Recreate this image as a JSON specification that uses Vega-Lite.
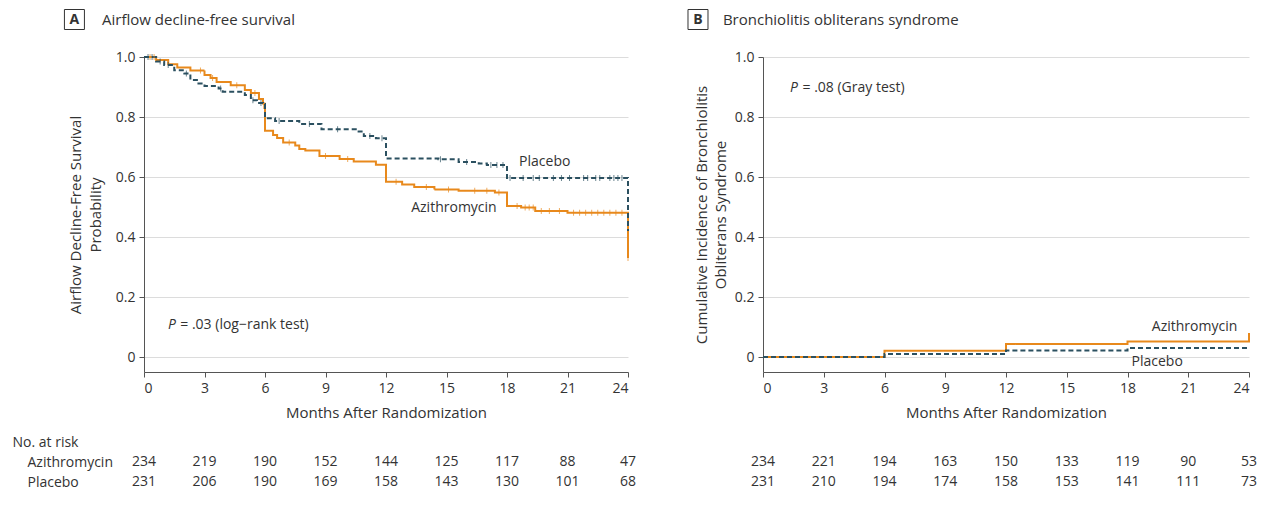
{
  "$schema": "https://vega.github.io/schema/vega-lite/v6.json",
  "padding": {"left": 12, "top": 7, "right": 0, "bottom": 0},
  "config": {
    "view": {"stroke": null},
    "font": "Open Sans",
    "axis": {"labelColor": "#333333", "titleColor": "#333333", "domainColor": "#555555", "tickColor": "#555555", "labelFontSize": 14, "titleFontSize": 15, "titleFontWeight": "normal", "gridColor": "#dcdcdc"},
    "text": {"color": "#333333", "fontSize": 14}
  },
  "datasets": {
    "kmA": [
      {"month": 0, "surv": 1.0, "arm": "Azithromycin"},
      {"month": 0.6, "surv": 0.99, "arm": "Azithromycin"},
      {"month": 1.2, "surv": 0.976, "arm": "Azithromycin"},
      {"month": 1.65, "surv": 0.965, "arm": "Azithromycin"},
      {"month": 2.3, "surv": 0.955, "arm": "Azithromycin"},
      {"month": 3.0, "surv": 0.94, "arm": "Azithromycin"},
      {"month": 3.3, "surv": 0.93, "arm": "Azithromycin"},
      {"month": 3.6, "surv": 0.917, "arm": "Azithromycin"},
      {"month": 4.3, "surv": 0.906, "arm": "Azithromycin"},
      {"month": 5.0, "surv": 0.89, "arm": "Azithromycin"},
      {"month": 5.3, "surv": 0.88, "arm": "Azithromycin"},
      {"month": 5.7, "surv": 0.86, "arm": "Azithromycin"},
      {"month": 5.9, "surv": 0.845, "arm": "Azithromycin"},
      {"month": 5.97, "surv": 0.83, "arm": "Azithromycin"},
      {"month": 6.0, "surv": 0.754, "arm": "Azithromycin"},
      {"month": 6.4, "surv": 0.74, "arm": "Azithromycin"},
      {"month": 6.6, "surv": 0.73, "arm": "Azithromycin"},
      {"month": 6.9, "surv": 0.715, "arm": "Azithromycin"},
      {"month": 7.5, "surv": 0.705, "arm": "Azithromycin"},
      {"month": 7.7, "surv": 0.693, "arm": "Azithromycin"},
      {"month": 8.0, "surv": 0.688, "arm": "Azithromycin"},
      {"month": 8.7, "surv": 0.67, "arm": "Azithromycin"},
      {"month": 9.7, "surv": 0.66, "arm": "Azithromycin"},
      {"month": 10.4, "surv": 0.652, "arm": "Azithromycin"},
      {"month": 11.5, "surv": 0.641, "arm": "Azithromycin"},
      {"month": 12.0, "surv": 0.584, "arm": "Azithromycin"},
      {"month": 12.8, "surv": 0.575, "arm": "Azithromycin"},
      {"month": 13.4, "surv": 0.567, "arm": "Azithromycin"},
      {"month": 14.4, "surv": 0.558, "arm": "Azithromycin"},
      {"month": 15.6, "surv": 0.554, "arm": "Azithromycin"},
      {"month": 17.4, "surv": 0.548, "arm": "Azithromycin"},
      {"month": 18.0, "surv": 0.503, "arm": "Azithromycin"},
      {"month": 18.7, "surv": 0.498, "arm": "Azithromycin"},
      {"month": 19.4, "surv": 0.487, "arm": "Azithromycin"},
      {"month": 21.0, "surv": 0.481, "arm": "Azithromycin"},
      {"month": 24.0, "surv": 0.33, "arm": "Azithromycin"},
      {"month": 0, "surv": 1.0, "arm": "Placebo"},
      {"month": 0.6, "surv": 0.985, "arm": "Placebo"},
      {"month": 1.0, "surv": 0.973, "arm": "Placebo"},
      {"month": 1.5, "surv": 0.956, "arm": "Placebo"},
      {"month": 2.0, "surv": 0.945, "arm": "Placebo"},
      {"month": 2.3, "surv": 0.923, "arm": "Placebo"},
      {"month": 2.7, "surv": 0.912, "arm": "Placebo"},
      {"month": 3.0, "surv": 0.903, "arm": "Placebo"},
      {"month": 3.7, "surv": 0.895, "arm": "Placebo"},
      {"month": 3.9, "surv": 0.884, "arm": "Placebo"},
      {"month": 5.0, "surv": 0.873, "arm": "Placebo"},
      {"month": 5.3, "surv": 0.856, "arm": "Placebo"},
      {"month": 5.6, "surv": 0.847, "arm": "Placebo"},
      {"month": 5.9, "surv": 0.843, "arm": "Placebo"},
      {"month": 6.0, "surv": 0.796, "arm": "Placebo"},
      {"month": 6.5, "surv": 0.787, "arm": "Placebo"},
      {"month": 7.7, "surv": 0.777, "arm": "Placebo"},
      {"month": 8.8, "surv": 0.759, "arm": "Placebo"},
      {"month": 10.5, "surv": 0.752, "arm": "Placebo"},
      {"month": 10.9, "surv": 0.737, "arm": "Placebo"},
      {"month": 11.5, "surv": 0.729, "arm": "Placebo"},
      {"month": 12.0, "surv": 0.662, "arm": "Placebo"},
      {"month": 14.6, "surv": 0.659, "arm": "Placebo"},
      {"month": 15.6, "surv": 0.65, "arm": "Placebo"},
      {"month": 16.6, "surv": 0.645, "arm": "Placebo"},
      {"month": 17.0, "surv": 0.64, "arm": "Placebo"},
      {"month": 18.0, "surv": 0.597, "arm": "Placebo"},
      {"month": 24.0, "surv": 0.42, "arm": "Placebo"}
    ],
    "censA": [
      {"month": 0.2, "surv": 1.0, "arm": "Placebo"},
      {"month": 0.4, "surv": 1.0, "arm": "Placebo"},
      {"month": 0.8, "surv": 0.985, "arm": "Placebo"},
      {"month": 1.2, "surv": 0.973, "arm": "Placebo"},
      {"month": 2.1, "surv": 0.945, "arm": "Placebo"},
      {"month": 3.8, "surv": 0.895, "arm": "Placebo"},
      {"month": 5.4, "surv": 0.856, "arm": "Placebo"},
      {"month": 5.8, "surv": 0.847, "arm": "Placebo"},
      {"month": 6.7, "surv": 0.787, "arm": "Placebo"},
      {"month": 8.2, "surv": 0.777, "arm": "Placebo"},
      {"month": 9.6, "surv": 0.759, "arm": "Placebo"},
      {"month": 11.2, "surv": 0.737, "arm": "Placebo"},
      {"month": 11.8, "surv": 0.729, "arm": "Placebo"},
      {"month": 14.7, "surv": 0.659, "arm": "Placebo"},
      {"month": 16.0, "surv": 0.65, "arm": "Placebo"},
      {"month": 17.2, "surv": 0.64, "arm": "Placebo"},
      {"month": 17.5, "surv": 0.64, "arm": "Placebo"},
      {"month": 17.8, "surv": 0.64, "arm": "Placebo"},
      {"month": 18.15, "surv": 0.597, "arm": "Placebo"},
      {"month": 18.8, "surv": 0.597, "arm": "Placebo"},
      {"month": 19.3, "surv": 0.597, "arm": "Placebo"},
      {"month": 19.6, "surv": 0.597, "arm": "Placebo"},
      {"month": 20.3, "surv": 0.597, "arm": "Placebo"},
      {"month": 20.7, "surv": 0.597, "arm": "Placebo"},
      {"month": 21.1, "surv": 0.597, "arm": "Placebo"},
      {"month": 21.8, "surv": 0.597, "arm": "Placebo"},
      {"month": 22.0, "surv": 0.597, "arm": "Placebo"},
      {"month": 22.4, "surv": 0.597, "arm": "Placebo"},
      {"month": 22.6, "surv": 0.597, "arm": "Placebo"},
      {"month": 23.1, "surv": 0.597, "arm": "Placebo"},
      {"month": 23.3, "surv": 0.597, "arm": "Placebo"},
      {"month": 23.5, "surv": 0.597, "arm": "Placebo"},
      {"month": 23.7, "surv": 0.597, "arm": "Placebo"},
      {"month": 0.3, "surv": 1.0, "arm": "Azithromycin"},
      {"month": 0.5, "surv": 1.0, "arm": "Azithromycin"},
      {"month": 2.8, "surv": 0.955, "arm": "Azithromycin"},
      {"month": 3.4, "surv": 0.93, "arm": "Azithromycin"},
      {"month": 4.6, "surv": 0.906, "arm": "Azithromycin"},
      {"month": 5.5, "surv": 0.88, "arm": "Azithromycin"},
      {"month": 7.2, "surv": 0.715, "arm": "Azithromycin"},
      {"month": 9.0, "surv": 0.67, "arm": "Azithromycin"},
      {"month": 10.1, "surv": 0.66, "arm": "Azithromycin"},
      {"month": 12.5, "surv": 0.584, "arm": "Azithromycin"},
      {"month": 14.0, "surv": 0.567, "arm": "Azithromycin"},
      {"month": 15.1, "surv": 0.558, "arm": "Azithromycin"},
      {"month": 16.4, "surv": 0.554, "arm": "Azithromycin"},
      {"month": 17.0, "surv": 0.554, "arm": "Azithromycin"},
      {"month": 17.6, "surv": 0.548, "arm": "Azithromycin"},
      {"month": 18.5, "surv": 0.503, "arm": "Azithromycin"},
      {"month": 18.9, "surv": 0.498, "arm": "Azithromycin"},
      {"month": 19.1, "surv": 0.498, "arm": "Azithromycin"},
      {"month": 19.3, "surv": 0.498, "arm": "Azithromycin"},
      {"month": 19.7, "surv": 0.487, "arm": "Azithromycin"},
      {"month": 20.1, "surv": 0.487, "arm": "Azithromycin"},
      {"month": 20.6, "surv": 0.487, "arm": "Azithromycin"},
      {"month": 21.3, "surv": 0.481, "arm": "Azithromycin"},
      {"month": 21.6, "surv": 0.481, "arm": "Azithromycin"},
      {"month": 21.9, "surv": 0.481, "arm": "Azithromycin"},
      {"month": 22.2, "surv": 0.481, "arm": "Azithromycin"},
      {"month": 22.5, "surv": 0.481, "arm": "Azithromycin"},
      {"month": 22.8, "surv": 0.481, "arm": "Azithromycin"},
      {"month": 23.1, "surv": 0.481, "arm": "Azithromycin"},
      {"month": 23.4, "surv": 0.481, "arm": "Azithromycin"},
      {"month": 23.7, "surv": 0.481, "arm": "Azithromycin"},
      {"month": 24.0, "surv": 0.33, "arm": "Azithromycin"}
    ],
    "kmB": [
      {"month": 0, "cif": 0, "arm": "Azithromycin"},
      {"month": 6, "cif": 0.021, "arm": "Azithromycin"},
      {"month": 12, "cif": 0.043, "arm": "Azithromycin"},
      {"month": 18, "cif": 0.052, "arm": "Azithromycin"},
      {"month": 24, "cif": 0.08, "arm": "Azithromycin"},
      {"month": 0, "cif": 0, "arm": "Placebo"},
      {"month": 6, "cif": 0.01, "arm": "Placebo"},
      {"month": 12, "cif": 0.022, "arm": "Placebo"},
      {"month": 18, "cif": 0.03, "arm": "Placebo"},
      {"month": 24, "cif": 0.03, "arm": "Placebo"}
    ],
    "riskA": [
      {"month": 0, "n": 234, "arm": "Azithromycin"},
      {"month": 3, "n": 219, "arm": "Azithromycin"},
      {"month": 6, "n": 190, "arm": "Azithromycin"},
      {"month": 9, "n": 152, "arm": "Azithromycin"},
      {"month": 12, "n": 144, "arm": "Azithromycin"},
      {"month": 15, "n": 125, "arm": "Azithromycin"},
      {"month": 18, "n": 117, "arm": "Azithromycin"},
      {"month": 21, "n": 88, "arm": "Azithromycin"},
      {"month": 24, "n": 47, "arm": "Azithromycin"},
      {"month": 0, "n": 231, "arm": "Placebo"},
      {"month": 3, "n": 206, "arm": "Placebo"},
      {"month": 6, "n": 190, "arm": "Placebo"},
      {"month": 9, "n": 169, "arm": "Placebo"},
      {"month": 12, "n": 158, "arm": "Placebo"},
      {"month": 15, "n": 143, "arm": "Placebo"},
      {"month": 18, "n": 130, "arm": "Placebo"},
      {"month": 21, "n": 101, "arm": "Placebo"},
      {"month": 24, "n": 68, "arm": "Placebo"}
    ],
    "riskB": [
      {"month": 0, "n": 234, "arm": "Azithromycin"},
      {"month": 3, "n": 221, "arm": "Azithromycin"},
      {"month": 6, "n": 194, "arm": "Azithromycin"},
      {"month": 9, "n": 163, "arm": "Azithromycin"},
      {"month": 12, "n": 150, "arm": "Azithromycin"},
      {"month": 15, "n": 133, "arm": "Azithromycin"},
      {"month": 18, "n": 119, "arm": "Azithromycin"},
      {"month": 21, "n": 90, "arm": "Azithromycin"},
      {"month": 24, "n": 53, "arm": "Azithromycin"},
      {"month": 0, "n": 231, "arm": "Placebo"},
      {"month": 3, "n": 210, "arm": "Placebo"},
      {"month": 6, "n": 194, "arm": "Placebo"},
      {"month": 9, "n": 174, "arm": "Placebo"},
      {"month": 12, "n": 158, "arm": "Placebo"},
      {"month": 15, "n": 153, "arm": "Placebo"},
      {"month": 18, "n": 141, "arm": "Placebo"},
      {"month": 21, "n": 111, "arm": "Placebo"},
      {"month": 24, "n": 73, "arm": "Placebo"}
    ]
  },
  "spacing": 48,
  "hconcat": [
    {
      "spacing": 15,
      "vconcat": [
        {
          "width": 484,
          "height": 315,
          "layer": [
            {
              "data": {"name": "kmA"},
              "mark": {"type": "line", "interpolate": "step-after", "strokeWidth": 2},
              "encoding": {
                "x": {"field": "month", "type": "quantitative", "scale": {"domain": [0, 24], "nice": false},
                  "axis": {"title": "Months After Randomization", "values": [0, 3, 6, 9, 12, 15, 18, 21, 24], "tickSize": 5, "labelPadding": 4, "titlePadding": 10, "grid": false}},
                "y": {"field": "surv", "type": "quantitative", "scale": {"domain": [-0.05, 1], "nice": false, "zero": false},
                  "axis": {"title": ["Airflow Decline-Free Survival", "Probability"], "values": [0, 0.2, 0.4, 0.6, 0.8, 1], "labelExpr": "datum.value == 0 ? '0' : format(datum.value, '.1f')", "grid": true, "tickSize": 5, "labelPadding": 4, "titlePadding": 12, "titleLineHeight": 20}},
                "color": {"field": "arm", "type": "nominal", "scale": {"domain": ["Azithromycin", "Placebo"], "range": ["#E8891C", "#2B5060"]}, "legend": null},
                "strokeDash": {"field": "arm", "type": "nominal", "scale": {"domain": ["Azithromycin", "Placebo"], "range": [[1, 0], [5, 3]]}, "legend": null}
              }
            },
            {
              "data": {"name": "censA"},
              "mark": {"type": "tick", "orient": "vertical", "size": 6, "thickness": 1},
              "encoding": {
                "x": {"field": "month", "type": "quantitative"},
                "y": {"field": "surv", "type": "quantitative"},
                "color": {"field": "arm", "type": "nominal", "legend": null}
              }
            },
            {
              "data": {"values": [{}]},
              "mark": {"type": "text", "align": "left", "baseline": "middle", "text": "Placebo"},
              "encoding": {"x": {"datum": 18.6}, "y": {"datum": 0.65}}
            },
            {
              "data": {"values": [{}]},
              "mark": {"type": "text", "align": "left", "baseline": "middle", "text": "Azithromycin"},
              "encoding": {"x": {"datum": 13.25}, "y": {"datum": 0.497}}
            },
            {
              "data": {"values": [{}]},
              "mark": {"type": "text", "align": "left", "baseline": "middle", "text": "P", "fontStyle": "italic"},
              "encoding": {"x": {"datum": 1.19}, "y": {"datum": 0.107}}
            },
            {
              "data": {"values": [{}]},
              "mark": {"type": "text", "align": "left", "baseline": "middle", "text": "= .03 (log−rank test)"},
              "encoding": {"x": {"datum": 1.8}, "y": {"datum": 0.107}}
            },
            {
              "data": {"values": [{}]},
              "mark": {"type": "point", "shape": "square", "size": 400, "filled": false, "stroke": "#333333", "strokeWidth": 1, "opacity": 1},
              "encoding": {"x": {"datum": -3.45}, "y": {"datum": 1.125}}
            },
            {
              "data": {"values": [{}]},
              "mark": {"type": "text", "align": "center", "baseline": "middle", "text": "A", "fontWeight": "bold", "fontSize": 14},
              "encoding": {"x": {"datum": -3.45}, "y": {"datum": 1.125}}
            },
            {
              "data": {"values": [{}]},
              "mark": {"type": "text", "align": "left", "baseline": "middle", "text": "Airflow decline-free survival", "fontSize": 15},
              "encoding": {"x": {"datum": -2.08}, "y": {"datum": 1.125}}
            }
          ]
        },
        {
          "width": 484,
          "height": 40,
          "data": {"name": "riskA"},
          "mark": {"type": "text", "fontSize": 14},
          "encoding": {
            "x": {"field": "month", "type": "quantitative", "scale": {"domain": [0, 24], "nice": false}, "axis": null},
            "y": {"field": "arm", "type": "nominal", "scale": {"type": "point", "domain": ["Azithromycin", "Placebo"], "padding": 0.5},
              "axis": {"title": "No. at risk", "titleAngle": 0, "titleAlign": "left", "titleBaseline": "middle", "titleX": -132, "titleY": -10, "titleFontSize": 14, "domain": false, "ticks": false, "tickSize": 0, "labelAlign": "left", "labelPadding": 117, "labelFontSize": 14}},
            "text": {"field": "n", "type": "quantitative"}
          }
        }
      ]
    },
    {
      "spacing": 32,
      "vconcat": [
        {
          "width": 486,
          "height": 315,
          "layer": [
            {
              "data": {"name": "kmB"},
              "mark": {"type": "line", "interpolate": "step-after", "strokeWidth": 2},
              "encoding": {
                "x": {"field": "month", "type": "quantitative", "scale": {"domain": [0, 24], "nice": false},
                  "axis": {"title": "Months After Randomization", "values": [0, 3, 6, 9, 12, 15, 18, 21, 24], "tickSize": 5, "labelPadding": 4, "titlePadding": 10, "grid": false}},
                "y": {"field": "cif", "type": "quantitative", "scale": {"domain": [-0.05, 1], "nice": false, "zero": false},
                  "axis": {"title": ["Cumulative Incidence of Bronchiolitis", "Obliterans Syndrome"], "values": [0, 0.2, 0.4, 0.6, 0.8, 1], "labelExpr": "datum.value == 0 ? '0' : format(datum.value, '.1f')", "grid": true, "tickSize": 5, "labelPadding": 4, "titlePadding": 6, "titleLineHeight": 19}},
                "color": {"field": "arm", "type": "nominal", "scale": {"domain": ["Azithromycin", "Placebo"], "range": ["#E8891C", "#2B5060"]}, "legend": null},
                "strokeDash": {"field": "arm", "type": "nominal", "scale": {"domain": ["Azithromycin", "Placebo"], "range": [[1, 0], [5, 3]]}, "legend": null}
              }
            },
            {
              "data": {"values": [{}]},
              "mark": {"type": "text", "align": "left", "baseline": "middle", "text": "Azithromycin"},
              "encoding": {"x": {"datum": 19.2}, "y": {"datum": 0.099}}
            },
            {
              "data": {"values": [{}]},
              "mark": {"type": "text", "align": "left", "baseline": "middle", "text": "Placebo"},
              "encoding": {"x": {"datum": 18.2}, "y": {"datum": -0.016}}
            },
            {
              "data": {"values": [{}]},
              "mark": {"type": "text", "align": "left", "baseline": "middle", "text": "P", "fontStyle": "italic"},
              "encoding": {"x": {"datum": 1.33}, "y": {"datum": 0.897}}
            },
            {
              "data": {"values": [{}]},
              "mark": {"type": "text", "align": "left", "baseline": "middle", "text": "= .08 (Gray test)"},
              "encoding": {"x": {"datum": 1.95}, "y": {"datum": 0.897}}
            },
            {
              "data": {"values": [{}]},
              "mark": {"type": "point", "shape": "square", "size": 400, "filled": false, "stroke": "#333333", "strokeWidth": 1, "opacity": 1},
              "encoding": {"x": {"datum": -3.21}, "y": {"datum": 1.125}}
            },
            {
              "data": {"values": [{}]},
              "mark": {"type": "text", "align": "center", "baseline": "middle", "text": "B", "fontWeight": "bold", "fontSize": 14},
              "encoding": {"x": {"datum": -3.21}, "y": {"datum": 1.125}}
            },
            {
              "data": {"values": [{}]},
              "mark": {"type": "text", "align": "left", "baseline": "middle", "text": "Bronchiolitis obliterans syndrome", "fontSize": 15},
              "encoding": {"x": {"datum": -1.98}, "y": {"datum": 1.125}}
            }
          ]
        },
        {
          "width": 486,
          "height": 40,
          "data": {"name": "riskB"},
          "mark": {"type": "text", "fontSize": 14},
          "encoding": {
            "x": {"field": "month", "type": "quantitative", "scale": {"domain": [0, 24], "nice": false}, "axis": null},
            "y": {"field": "arm", "type": "nominal", "scale": {"type": "point", "domain": ["Azithromycin", "Placebo"], "padding": 0.5}, "axis": null},
            "text": {"field": "n", "type": "quantitative"}
          }
        }
      ]
    }
  ]
}
